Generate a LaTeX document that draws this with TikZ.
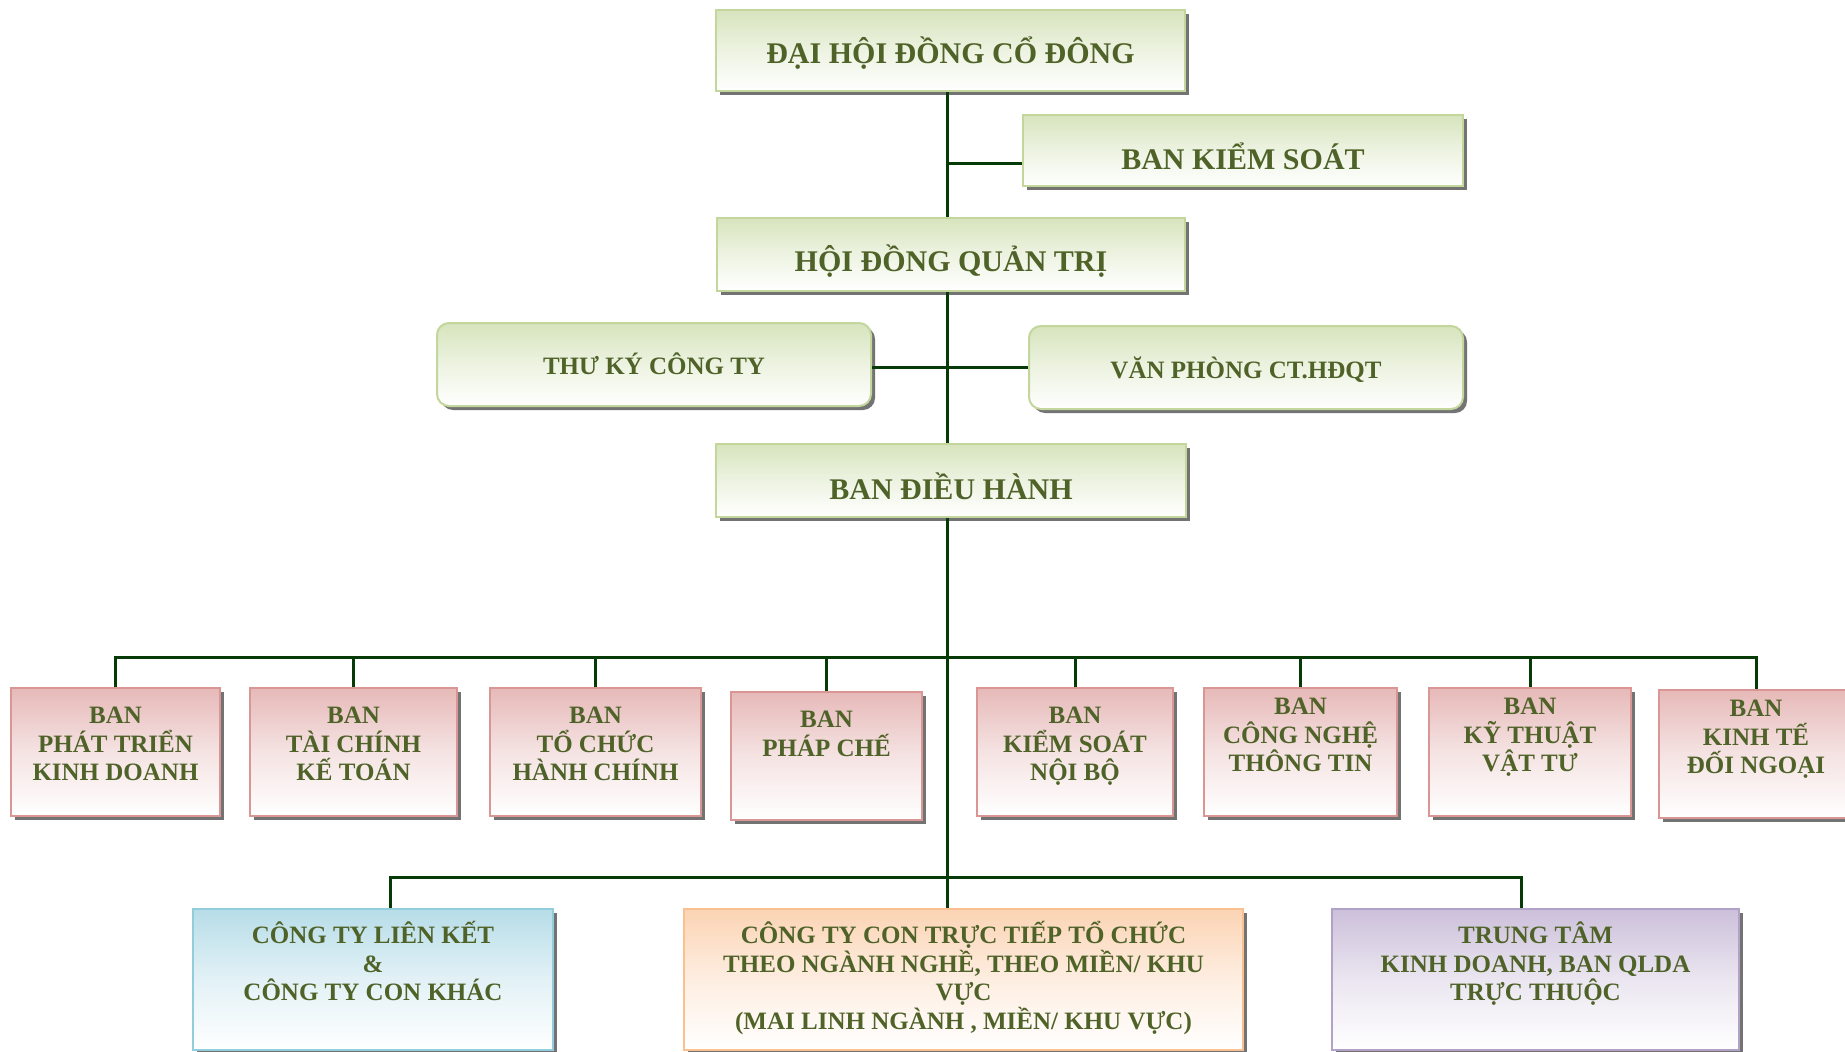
\documentclass[tikz,border=0pt]{standalone}
\usepackage{fontspec}
\setmainfont{Liberation Serif}
\usetikzlibrary{positioning,shadows}

\definecolor{txtgreen}{HTML}{4F6228}
\definecolor{linegreen}{HTML}{063A06}
\definecolor{greentop}{HTML}{D7E4BD}
\definecolor{greenedge}{HTML}{C3D69B}
\definecolor{pinktop}{HTML}{E6B9B8}
\definecolor{pinkedge}{HTML}{D99694}
\definecolor{bluetop}{HTML}{B7DDE8}
\definecolor{blueedge}{HTML}{92CDDC}
\definecolor{orangetop}{HTML}{FBD4B4}
\definecolor{orangeedge}{HTML}{FAC090}
\definecolor{purpletop}{HTML}{CCC0DA}
\definecolor{purpleedge}{HTML}{B3A2C7}

% strut that fixes the height of a first line
\newcommand{\firstline}{\rule{0pt}{26pt}}

\begin{document}
\begin{tikzpicture}[x=1pt, y=-1pt,
  box/.style={draw, rectangle, line width=2pt, inner sep=0pt,
    drop shadow={shadow xshift=4pt, shadow yshift=-4pt, fill=black!55, opacity=1}},
  greenbox/.style={box, draw=greenedge, top color=greentop, bottom color=white,
    middle color=greentop!45!white, text=txtgreen,
    font=\bfseries\fontsize{30}{34}\selectfont, text height=34pt, text depth=0pt},
  roundbox/.style={greenbox, rounded corners=12pt,
    font=\bfseries\fontsize{25}{28}\selectfont, text height=20pt},
  pinkbox/.style={box, line width=2.5pt, draw=pinkedge, top color=pinktop,
    bottom color=white, middle color=pinktop!40!white, minimum height=128pt},
  unitbox/.style={box, line width=2.5pt, draw=#1edge, top color=#1top,
    bottom color=white, middle color=#1top!40!white, minimum height=141pt},
  txt/.style={text=txtgreen, font=\bfseries\fontsize{25}{28.6}\selectfont,
    align=center, inner sep=0pt},
  conn/.style={draw=linegreen, line width=3pt}]

  \useasboundingbox (0,0) rectangle (1845,1052);

  % --- governing bodies ---
  \node[greenbox, minimum width=469pt, minimum height=81pt, text height=25pt]
    (dhdcd) at (950.5,50.5) {ĐẠI HỘI ĐỒNG CỔ ĐÔNG};
  \node[greenbox, minimum width=440pt, minimum height=71pt, text height=38pt]
    (bks) at (1243,150.5) {BAN KIỂM SOÁT};
  \node[greenbox, minimum width=468pt, minimum height=73pt]
    (hdqt) at (951,254) {HỘI ĐỒNG QUẢN TRỊ};
  \node[roundbox, minimum width=434pt, minimum height=83pt]
    (thuky) at (654,364.5) {THƯ KÝ CÔNG TY};
  \node[roundbox, minimum width=434pt, minimum height=83pt, text height=21pt]
    (vanphong) at (1246,367.5) {VĂN PHÒNG CT.HĐQT};
  \node[greenbox, minimum width=470pt, minimum height=73pt, text height=37pt]
    (bdh) at (951,480.5) {BAN ĐIỀU HÀNH};

  % --- departments ---
  \node[pinkbox, minimum width=209pt] (ptkd) at (115.5,752) {};
  \node[pinkbox, minimum width=207pt] (tckt) at (353.5,752) {};
  \node[pinkbox, minimum width=211pt] (tchc) at (595.5,752) {};
  \node[pinkbox, minimum width=191pt] (pc)   at (826.5,756) {};
  \node[pinkbox, minimum width=196pt] (ksnb) at (1075,752) {};
  \node[pinkbox, minimum width=193pt] (cntt) at (1300.5,752) {};
  \node[pinkbox, minimum width=202pt] (ktvt) at (1530,752) {};
  \node[pinkbox, minimum width=194pt] (ktdn) at (1756,754) {};

  \node[txt, below=10.5pt of ptkd.north] (ptkd-t) {\firstline BAN\\PHÁT TRIỂN\\KINH DOANH};
  \node[txt, below=10.5pt of tckt.north] (tckt-t) {\firstline BAN\\TÀI CHÍNH\\KẾ TOÁN};
  \node[txt, below=10.5pt of tchc.north] (tchc-t) {\firstline BAN\\TỔ CHỨC\\HÀNH CHÍNH};
  \node[txt, below=10.5pt of pc.north]   (pc-t)   {\firstline BAN\\PHÁP CHẾ};
  \node[txt, below=10.5pt of ksnb.north] (ksnb-t) {\firstline BAN\\KIỂM SOÁT\\NỘI BỘ};
  \node[txt, below=1.5pt of cntt.north] (cntt-t) {\firstline BAN\\CÔNG NGHỆ\\THÔNG TIN};
  \node[txt, below=1.5pt of ktvt.north] (ktvt-t) {\firstline BAN\\KỸ THUẬT\\VẬT TƯ};
  \node[txt, below=1.5pt of ktdn.north] (ktdn-t) {\firstline BAN\\KINH TẾ\\ĐỐI NGOẠI};

  % --- companies and units ---
  \node[unitbox=blue, minimum width=360pt]   (ctlk)  at (373,979.5) {};
  \node[unitbox=orange, minimum width=559pt] (ctcon) at (963.5,979.5) {};
  \node[unitbox=purple, minimum width=407pt] (tttt)  at (1535.5,979.5) {};

  \node[txt, below=9.5pt of ctlk.north] (ctlk-t)
    {\firstline CÔNG TY LIÊN KẾT\\\&\\CÔNG TY CON KHÁC};
  \node[txt, below=9.5pt of ctcon.north] (ctcon-t)
    {\firstline CÔNG TY CON TRỰC TIẾP TỔ CHỨC\\THEO NGÀNH NGHỀ, THEO MIỀN/ KHU\\VỰC\\(MAI LINH NGÀNH , MIỀN/ KHU VỰC)};
  \node[txt, below=9.5pt of tttt.north] (tttt-t)
    {\firstline TRUNG TÂM\\KINH DOANH, BAN QLDA\\TRỰC THUỘC};

  % --- connectors ---
  \coordinate (bus)    at (947,657);
  \coordinate (bksj)   at (947,163);
  \coordinate (lbus-l) at (390,877);
  \coordinate (lbus-r) at (1521,877);

  \draw[conn] (dhdcd.south -| bus) -- (hdqt.north -| bus);
  \draw[conn] (bksj) -- (bksj -| bks.west);
  \draw[conn] (hdqt.south -| bus) -- (bdh.north -| bus);
  \draw[conn] (thuky.east |- vanphong.west) -- (vanphong.west);
  \draw[conn] (bdh.south -| bus) -- (ctcon.north -| bus);
  \draw[conn] (ptkd.north) |- (ktdn.north |- bus) -- (ktdn.north);
  \foreach \b in {tckt,tchc,pc,ksnb,cntt,ktvt}
    \draw[conn] (\b.north) -- (\b.north |- bus);
  \draw[conn] (ctlk.north -| lbus-l) |- (lbus-r) -- (tttt.north -| lbus-r);

\end{tikzpicture}
\end{document}
